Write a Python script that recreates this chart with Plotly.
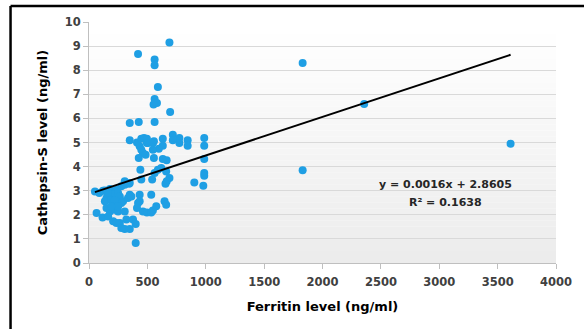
import plotly.graph_objects as go

# Ferritin (ng/ml) vs Cathepsin-S (ng/ml)
ferritin = [
    689, 420, 562, 562, 590, 562, 582, 553, 695,
    349, 426, 562,
    349, 411, 448, 471, 496, 556, 632, 718, 774, 845, 987, 987, 845, 774, 718,
    632, 598, 547, 496, 434, 448, 462, 485, 426, 556, 632, 987, 505, 547, 665,
    440, 590, 619, 562, 541, 661, 689, 666, 655, 448, 902, 987, 987, 979, 343, 306,
    51, 88, 136, 179, 207, 235, 277, 306, 349,
    150, 136, 207, 249, 264, 292, 277, 235, 334, 349, 363,
    150, 179, 221, 249, 306, 65, 116, 164, 207, 235, 264, 277, 306, 320, 349, 377, 400, 400,
    434, 420, 434, 411, 462, 496, 533, 547, 533, 576, 647, 661,
    120, 190, 160, 220, 250, 190,
    1830, 2357, 3611, 1830,
]
cathepsin = [
    9.15, 8.67, 8.44, 8.21, 7.30, 6.80, 6.64, 6.58, 6.27,
    5.81, 5.85, 5.85,
    5.09, 5.00, 5.16, 5.19, 5.16, 5.05, 5.16, 5.32, 5.19, 5.09, 5.19, 4.87, 4.87, 4.98, 5.09,
    4.87, 4.74, 4.70, 4.98, 4.84, 4.70, 4.56, 4.49, 4.36, 4.36, 4.32, 4.32, 4.98, 4.98, 4.26,
    3.87, 3.87, 3.94, 3.73, 3.46, 3.80, 3.53, 3.39, 3.29, 3.46, 3.34, 3.73, 3.62, 3.21, 3.29, 3.39,
    2.97, 2.90, 3.01, 3.07, 2.97, 3.04, 3.18, 3.25, 3.32,
    2.70, 2.56, 2.83, 2.90, 2.76, 2.56, 2.49, 2.49, 2.70, 2.83, 2.76,
    2.28, 2.14, 2.21, 2.14, 2.14, 2.07, 1.89, 1.93, 1.73, 1.66, 1.66, 1.45, 1.41, 1.80, 1.41, 1.80, 1.62, 0.83,
    2.83, 2.49, 2.56, 2.28, 2.14, 2.10, 2.10, 2.18, 2.83, 2.35, 2.56, 2.42,
    3.00, 2.60, 2.90, 2.60, 2.35, 2.35,
    8.30, 6.60, 4.95, 3.85,
]

# linear trendline (from the chart's equation)
slope = 0.0016
intercept = 2.8605
r_squared = 0.1638
trend_x = [min(ferritin), max(ferritin)]
trend_y = [slope * v + intercept for v in trend_x]

x_ticks = [0, 500, 1000, 1500, 2000, 2500, 3000, 3500, 4000]
y_ticks = [0, 1, 2, 3, 4, 5, 6, 7, 8, 9, 10]

FONT = "DejaVu Sans"
fig = go.Figure()

fig.add_trace(go.Scatter(
    x=ferritin, y=cathepsin, mode="markers",
    marker=dict(color="#1f9fe4", size=8, line=dict(width=0)),
    showlegend=False, hoverinfo="x+y",
))
fig.add_trace(go.Scatter(
    x=trend_x, y=trend_y, mode="lines",
    line=dict(color="#000000", width=2),
    showlegend=False, hoverinfo="skip",
))

# vertical gradient background of the plot area
n = 40
shapes = []
for i in range(n):
    t = i / (n - 1)
    g = int(round(255 - (255 - 236) * (1 - t)))
    shapes.append(dict(
        type="rect", xref="x domain", yref="y domain",
        x0=0, x1=1, y0=i / n, y1=(i + 1) / n,
        fillcolor=f"rgb({g},{g},{g})", line=dict(width=0), layer="below",
    ))
# black frame lines (top and left)
shapes.append(dict(type="line", xref="paper", yref="paper",
                   x0=-0.168, x1=1.06, y0=1.066, y1=1.066,
                   line=dict(color="#000000", width=2.5)))
shapes.append(dict(type="line", xref="paper", yref="paper",
                   x0=-0.168, x1=-0.168, y0=1.066, y1=-0.3,
                   line=dict(color="#000000", width=2.5)))

fig.update_layout(
    width=584, height=329,
    margin=dict(l=89, r=25, t=22, b=66),
    paper_bgcolor="white", plot_bgcolor="white",
    shapes=shapes,
    font=dict(family=FONT, color="#404040"),
    xaxis=dict(
        range=[0, 4000], tickvals=x_ticks, ticktext=[str(v) for v in x_ticks],
        showgrid=False, zeroline=False,
        showline=True, linecolor="#bfbfbf", linewidth=1,
        ticks="outside", ticklen=5, tickcolor="#bfbfbf", ticklabelstandoff=3,
        tickfont=dict(family=FONT, size=11.5, color="#404040", weight="bold"),
        title=dict(text="Ferritin level (ng/ml)", standoff=14,
                   font=dict(family=FONT, size=13, color="#000000", weight="bold")),
    ),
    yaxis=dict(
        range=[0, 10], tickvals=y_ticks, ticktext=[str(v) for v in y_ticks],
        showgrid=True, gridcolor="#d9d9d9", gridwidth=1, zeroline=False,
        showline=True, linecolor="#bfbfbf", linewidth=1,
        ticks="outside", ticklen=5, tickcolor="#bfbfbf",
        tickfont=dict(family=FONT, size=11.5, color="#404040", weight="bold"),
        title=dict(text="Cathepsin-S level (ng/ml)", standoff=14,
                   font=dict(family=FONT, size=13, color="#000000", weight="bold")),
    ),
    annotations=[
        dict(x=3055, y=3.25, xref="x", yref="y", showarrow=False,
             text=f"y = {slope:.4f}x + {intercept:.4f}",
             font=dict(family=FONT, size=11, color="#262626", weight="bold")),
        dict(x=3055, y=2.53, xref="x", yref="y", showarrow=False,
             text=f"R² = {r_squared:.4f}",
             font=dict(family=FONT, size=11, color="#262626", weight="bold")),
    ],
)

fig.write_html("out.html")
